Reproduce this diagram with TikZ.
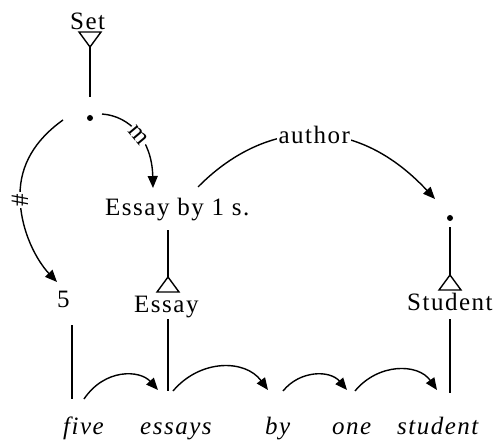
\documentclass[tikz,border=0pt]{standalone}
\usepackage{fontspec}
\setmainfont{Liberation Serif}[LetterSpace=6,Ligatures=NoCommon]
\usetikzlibrary{arrows.meta}
\begin{document}
\begin{tikzpicture}[x=1pt,y=-1pt,
  every node/.style={inner sep=0pt, font=\fontsize{25}{30}\selectfont},
  con/.style={line width=1.4pt},
  arr/.style={con, -{Triangle[length=12pt,width=10pt]}},
  dot/.style={circle, fill, minimum size=6pt},
  lbl/.style={anchor=base west},
  word/.style={anchor=base west, font=\fontsize{25}{30}\selectfont\itshape},
  tag/.style={fill=white, inner sep=1.5pt},
  tri/.style={line width=1.4pt, line join=miter}
]
\useasboundingbox (0,0) rectangle (493,441);

% concept labels and referent dots
\node[lbl] (set) at (70,30) {Set};
\node[dot] (d1) at (90,118) {};
\node[lbl] (ebs) at (105,215) {Essay by 1 s.};
\node[dot] (d2) at (450,218) {};
\node[lbl] (num) at (57,307) {5};
\node[lbl] (essay) at (134,312) {Essay};
\node[lbl] (student) at (407,310) {Student};

% the sentence
\node[word] (w1) at (63,434) {five};
\node[word] (w2) at (140,434) {essays};
\node[word] (w3) at (265,434) {by};
\node[word] (w4) at (332,434) {one};
\node[word] (w5) at (397,434) {student};

% type triangles
\coordinate (tSet) at (90,47);
\coordinate (tEssay) at (168,277);
\coordinate (tStud) at (450,275);
\draw[tri] (tSet) -- ++(-11,-15) -- ++(22,0) -- cycle;
\draw[tri] (tEssay) -- ++(-11,15) -- ++(22,0) -- cycle;
\draw[tri] (tStud) -- ++(-11,15) -- ++(22,0) -- cycle;

% stems
\coordinate (eTop) at (168,230);
\draw[con, shorten >=18pt] (tSet) -- (d1);
\draw[con] (eTop) -- (tEssay);
\draw[con, shorten <=6pt] (d2) -- (tStud);

% links down to the words
\coordinate (n5a) at (72,325);  \coordinate (n5b) at (72,399);
\coordinate (ea) at (168,319);  \coordinate (eb) at (168,391);
\coordinate (sa) at (450,319);  \coordinate (sb) at (450,393);
\draw[con] (n5a) -- (n5b);
\draw[con] (ea) -- (eb);
\draw[con] (sa) -- (sb);

% word-to-word arcs
\coordinate (a1s) at (84,399);  \coordinate (a1e) at (158,390);
\coordinate (a2s) at (173,391); \coordinate (a2e) at (268,390);
\coordinate (a3s) at (283,391); \coordinate (a3e) at (347,390);
\coordinate (a4s) at (355,391); \coordinate (a4e) at (437,390);
\draw[arr] (a1s) .. controls (105,368) and (140,370) .. (a1e);
\draw[arr] (a2s) .. controls (200,359) and (245,359) .. (a2e);
\draw[arr] (a3s) .. controls (300,370) and (330,370) .. (a3e);
\draw[arr] (a4s) .. controls (378,363) and (418,363) .. (a4e);

% relations from the set referent
\coordinate (mS) at (102,114); \coordinate (mE) at (153,188);
\draw[arr] (mS) .. controls (130,116) and (152,140) .. (mE)
  node[tag, pos=0.52, rotate=-50] (mlab) {m};
\coordinate (hS) at (63,120); \coordinate (hM) at (20,195); \coordinate (hE) at (57,282);
\draw[con] (hS) .. controls (35,140) and (20,165) .. (hM);
\draw[arr] (hM) .. controls (20,232) and (38,262) .. (hE);
\node[tag, rotate=90] (hlab) at (20,200) {\#};

% author relation
\coordinate (auS) at (198,187); \coordinate (auE) at (435,199);
\draw[arr] (auS) .. controls (262,122) and (352,110) .. (auE)
  node[tag, pos=0.52] (aulab) {author};
\end{tikzpicture}
\end{document}
